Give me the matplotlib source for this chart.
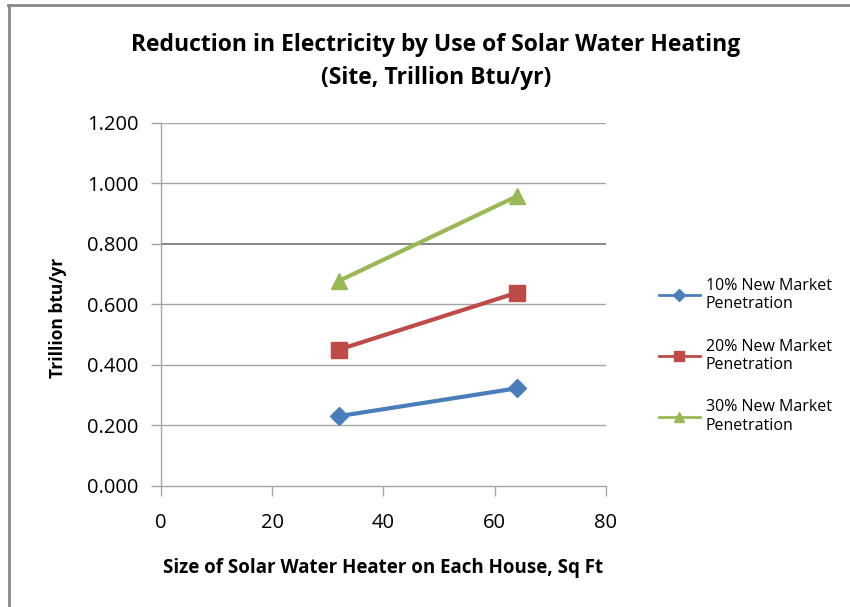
import matplotlib.pyplot as plt
from matplotlib.lines import Line2D

plt.rcParams['font.family'] = ['Open Sans', 'DejaVu Sans']

# panel size (sq ft) and site electricity reduction (trillion Btu/yr)
sizes = [32, 64]
pen_10 = [0.230, 0.322]
pen_20 = [0.450, 0.638]
pen_30 = [0.677, 0.957]
labels = ['10% New Market\nPenetration', '20% New Market\nPenetration', '30% New Market\nPenetration']
yticks = [0.0, 0.2, 0.4, 0.6, 0.8, 1.0, 1.2]
xticks = [0, 20, 40, 60, 80]

fig = plt.figure(figsize=(8.5, 6.07), dpi=100)
ax = fig.add_axes([0.1894, 0.1998, 0.5235, 0.5981])

ax.plot(sizes, pen_10, color='#4A7EBB', lw=3, marker='D', ms=9, label=labels[0])
ax.plot(sizes, pen_20, color='#BE4B48', lw=3, marker='s', ms=11, label=labels[1])
ax.plot(sizes, pen_30, color='#98B954', lw=3, marker='^', ms=12, label=labels[2])

ax.set_xlim(0, 80)
ax.set_ylim(0, 1.2)
ax.set_xticks(xticks)
ax.set_yticks(yticks)
ax.set_yticklabels(['%.3f' % v for v in yticks])

for v in yticks[1:]:
    c = '#7F7F7F' if v == 0.8 else '#A6A6A6'
    ax.axhline(v, color=c, lw=1.3 if v == 0.8 else 1.0, zorder=0)

for s in ['top', 'right']:
    ax.spines[s].set_visible(False)
for s in ['left', 'bottom']:
    ax.spines[s].set_color('#A6A6A6')
    ax.spines[s].set_linewidth(1.0)
ax.tick_params(axis='both', color='#A6A6A6', length=7, width=1.0, labelsize=14.5, colors='#A6A6A6',
               labelcolor='black')
ax.tick_params(axis='x', pad=13)
ax.tick_params(axis='y', pad=9)

ax.set_xlabel('Size of Solar Water Heater on Each House, Sq Ft', fontsize=13.5, fontweight='bold', labelpad=18)
ax.set_ylabel('Trillion btu/yr', fontsize=12.5, fontweight='bold')
ax.yaxis.set_label_coords(-0.212, 0.463)

fig.text(0.513, 0.926, 'Reduction in Electricity by Use of Solar Water Heating',
         ha='center', va='center', fontsize=16.5, fontweight='bold')
fig.text(0.513, 0.872, '(Site, Trillion Btu/yr)', ha='center', va='center', fontsize=16.5, fontweight='bold')

leg = ax.legend(loc='upper left', bbox_to_anchor=(0.758, 0.566), bbox_transform=fig.transFigure,
                frameon=False, fontsize=11.5, handlelength=2.6, labelspacing=1.65, handletextpad=0.35,
                markerscale=0.65)
for h in leg.get_lines():
    h.set_linewidth(2)

# outer chart frame (top and left edges)
fig.add_artist(Line2D([0.009, 1.0], [0.991, 0.991], transform=fig.transFigure, color='#888888', lw=2))
fig.add_artist(Line2D([0.010, 0.010], [0.0, 0.991], transform=fig.transFigure, color='#888888', lw=2))

fig.savefig('out.png', dpi=100)
